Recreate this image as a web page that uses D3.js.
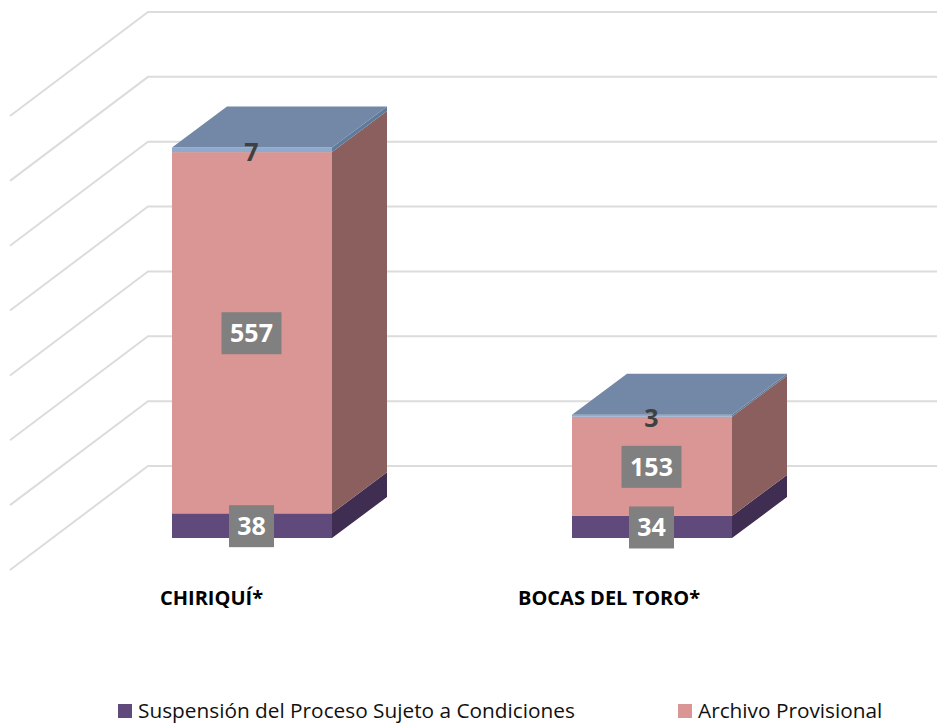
<!DOCTYPE html>
<html>
<head>
<meta charset="utf-8">
<script src="https://cdn.jsdelivr.net/npm/d3@7"></script>
<style>
  html, body { margin: 0; padding: 0; background: #fff; }
  svg { display: block; }
  text { font-family: "Open Sans", "Noto Sans", sans-serif; }
</style>
</head>
<body>
<script>
// The chart's values
var categories = ['CHIRIQUÍ*', 'BOCAS DEL TORO*'];
var suspension = [38, 34];
var archivo = [557, 153];
var topSeries = [7, 3];
var gridTicks = [0, 100, 200, 300, 400, 500, 600, 700];
var legendNames = ['Suspensión del Proceso Sujeto a Condiciones', 'Archivo Provisional'];

var width = 937, height = 724;

var svg = d3.select('body').append('svg')
  .attr('width', width)
  .attr('height', height);

// Back wall value scale, the bars stand 72px lower on the front plane
var y = d3.scaleLinear().domain([0, 700]).range([466, 12]);
var frontShift = 72;
var yFront = function(v) { return y(v) + frontShift; };

var x = d3.scaleBand().domain(categories).range([172, 732]).paddingInner(0.6).paddingOuter(0);

// Depth of the 3d box and of the floor
var depthX = 55, depthY = -41;
var floorX = 138, floorY = 104;
var wallLeft = 148;

var lineGen = d3.line();

// Gridlines: along the back wall and down the side wall
svg.append('g').selectAll('path')
  .data(gridTicks)
  .enter().append('path')
  .attr('d', function(d) {
    return lineGen([[wallLeft - floorX, y(d) + floorY], [wallLeft, y(d)], [width, y(d)]]);
  })
  .attr('fill', 'none')
  .attr('stroke', '#dcdcdc')
  .attr('stroke-width', 2);

// Stack the three series per category
var segments = [];
categories.forEach(function(c, i) {
  var a = suspension[i], b = a + archivo[i], t = b + topSeries[i];
  segments.push({ cat: c, v0: 0, v1: a, value: suspension[i], front: '#604a7b', side: '#3f2d52', boxed: true });
  segments.push({ cat: c, v0: a, v1: b, value: archivo[i], front: '#d99694', side: '#8b5f5d', boxed: true });
  segments.push({ cat: c, v0: b, v1: t, value: topSeries[i], front: '#8eaacc', side: '#5f7b9c', boxed: false, top: '#7288a6' });
});

var bw = x.bandwidth();

var bars = svg.append('g');

// Right hand face of each segment
bars.selectAll('path.side')
  .data(segments)
  .enter().append('path')
  .attr('class', 'side')
  .attr('d', function(d) {
    var xr = x(d.cat) + bw;
    return lineGen([
      [xr, yFront(d.v0)],
      [xr + depthX, yFront(d.v0) + depthY],
      [xr + depthX, yFront(d.v1) + depthY],
      [xr, yFront(d.v1)]
    ]) + 'Z';
  })
  .attr('fill', function(d) { return d.side; });

// Front face
bars.selectAll('rect.front')
  .data(segments)
  .enter().append('rect')
  .attr('class', 'front')
  .attr('x', function(d) { return x(d.cat); })
  .attr('y', function(d) { return yFront(d.v1); })
  .attr('width', bw)
  .attr('height', function(d) { return yFront(d.v0) - yFront(d.v1); })
  .attr('fill', function(d) { return d.front; });

// Lid of the box
bars.selectAll('path.top')
  .data(segments.filter(function(d) { return d.top; }))
  .enter().append('path')
  .attr('class', 'top')
  .attr('d', function(d) {
    var xl = x(d.cat), yt = yFront(d.v1);
    return lineGen([
      [xl, yt],
      [xl + depthX, yt + depthY],
      [xl + bw + depthX, yt + depthY],
      [xl + bw, yt]
    ]) + 'Z';
  })
  .attr('fill', function(d) { return d.top; });

// Data labels, they sit a pixel left of the bar centre
var labels = svg.append('g');

var labelX = function(d) { return x(d.cat) + bw / 2 - 0.5; };
var labelY = function(d) { return (yFront(d.v0) + yFront(d.v1)) / 2 + (d.boxed ? 0.5 : 2.5); };

labels.selectAll('rect')
  .data(segments.filter(function(d) { return d.boxed; }))
  .enter().append('rect')
  .attr('x', function(d) {
    var w = String(d.value).length > 2 ? 60 : 45;
    return labelX(d) - w / 2;
  })
  .attr('y', function(d) { return labelY(d) - 21; })
  .attr('width', function(d) { return String(d.value).length > 2 ? 60 : 45; })
  .attr('height', 42)
  .attr('fill', '#808080');

labels.selectAll('text')
  .data(segments)
  .enter().append('text')
  .attr('x', labelX)
  .attr('y', labelY)
  .attr('dy', '0.36em')
  .attr('text-anchor', 'middle')
  .attr('font-size', 25)
  .attr('font-weight', 700)
  .attr('fill', function(d) { return d.boxed ? '#ffffff' : '#404040'; })
  .text(function(d) { return d.value; });

// Category labels
svg.append('g').selectAll('text')
  .data(categories)
  .enter().append('text')
  .attr('x', function(d, i) { return x(d) + bw / 2 + (i === 0 ? -92 : -134); })
  .attr('y', 605)
  .attr('font-size', 20)
  .attr('font-weight', 700)
  .attr('fill', '#000')
  .text(function(d) { return d; });

// Legend
var legendX = d3.scaleOrdinal().domain(legendNames).range([118, 678]);
var legendColor = d3.scaleOrdinal().domain(legendNames).range(['#604a7b', '#d99694']);

var legend = svg.append('g').selectAll('g')
  .data(legendNames)
  .enter().append('g')
  .attr('transform', function(d) { return 'translate(' + legendX(d) + ',704)'; });

legend.append('rect')
  .attr('width', 14)
  .attr('height', 14)
  .attr('fill', function(d) { return legendColor(d); });

legend.append('text')
  .attr('x', 20)
  .attr('y', 14)
  .attr('font-size', 20.8)
  .attr('fill', '#111')
  .text(function(d) { return d; });
</script>
</body>
</html>
